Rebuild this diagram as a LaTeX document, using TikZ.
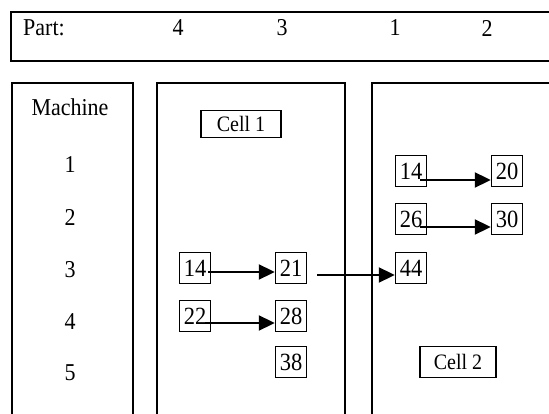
\documentclass[tikz,border=0pt]{standalone}
\usepackage{fontspec}
\setmainfont{Liberation Serif}
\usetikzlibrary{arrows.meta}
\newcommand\tx[1]{\scalebox{1}[1.1]{#1}}
\tikzset{
  frame/.style={draw, line width=1.6pt},
  lbl/.style={font=\fontsize{22}{24}\selectfont, inner sep=0pt},
  numbox/.style={draw, line width=1.4pt, minimum width=31pt, minimum height=31pt, inner sep=0pt, font=\fontsize{22.5}{24}\selectfont},
  cellbox/.style={draw, line width=1.4pt, inner sep=0pt, font=\fontsize{20}{22}\selectfont},
  arr/.style={line width=2pt, -{Triangle[length=16pt,width=15pt]}}
}
\begin{document}
\begin{tikzpicture}[x=1pt,y=-1pt]
\useasboundingbox (0,0) rectangle (549,414);
\clip (0,0) rectangle (549,414);
% frames
\draw[frame] (11,12) rectangle (560,61);
\draw[frame] (12,83) rectangle (133,430);
\draw[frame] (157,83) rectangle (345,430);
\draw[frame] (372,83) rectangle (560,430);
% header
\node[lbl] (part) at (44,28) {\tx{Part:}};
\node[lbl] (p4) at (178,28) {\tx{4}};
\node[lbl] (p3) at (282,28) {\tx{3}};
\node[lbl] (p1) at (395,28) {\tx{1}};
\node[lbl] (p2) at (487,28) {\tx{2}};
% machines
\node[lbl] (mach) at (70,107) {\tx{Machine}};
\node[lbl] (m1) at (70,165) {\tx{1}};
\node[lbl] (m2) at (70,217) {\tx{2}};
\node[lbl] (m3) at (70,270) {\tx{3}};
\node[lbl] (m4) at (70,322) {\tx{4}};
\node[lbl] (m5) at (70,373) {\tx{5}};
% cell 1
\node[cellbox, minimum width=80pt, minimum height=27pt] (c1) at (241,124) {\tx{Cell 1}};
\node[numbox] (a14) at (195,268) {\tx{14}};
\node[numbox] (a21) at (291,268) {\tx{21}};
\node[numbox] (a22) at (195,316) {\tx{22}};
\node[numbox] (a28) at (291,316) {\tx{28}};
\node[numbox] (a38) at (291,362) {\tx{38}};
% cell 2
\node[cellbox, minimum width=76pt, minimum height=31pt] (c2) at (458,362) {\tx{Cell 2}};
\node[numbox] (b14) at (411,171) {\tx{14}};
\node[numbox] (b20) at (507,171) {\tx{20}};
\node[numbox] (b26) at (411,219) {\tx{26}};
\node[numbox] (b30) at (507,219) {\tx{30}};
\node[numbox] (b44) at (411,268) {\tx{44}};
% arrows
\draw[arr] ([xshift=-3pt,yshift=-4pt]a14.east) -- ([yshift=-4pt]a21.west);
\draw[arr] ([xshift=-6pt,yshift=-7pt]a22.east) -- ([yshift=-7pt]a28.west);
\draw[arr] ([xshift=10pt,yshift=-7pt]a21.east) -- ([yshift=-7pt]b44.west);
\draw[arr] ([xshift=-7pt,yshift=-9pt]b14.east) -- ([yshift=-9pt]b20.west);
\draw[arr] ([xshift=-7pt,yshift=-8pt]b26.east) -- ([yshift=-8pt]b30.west);
\end{tikzpicture}
\end{document}
